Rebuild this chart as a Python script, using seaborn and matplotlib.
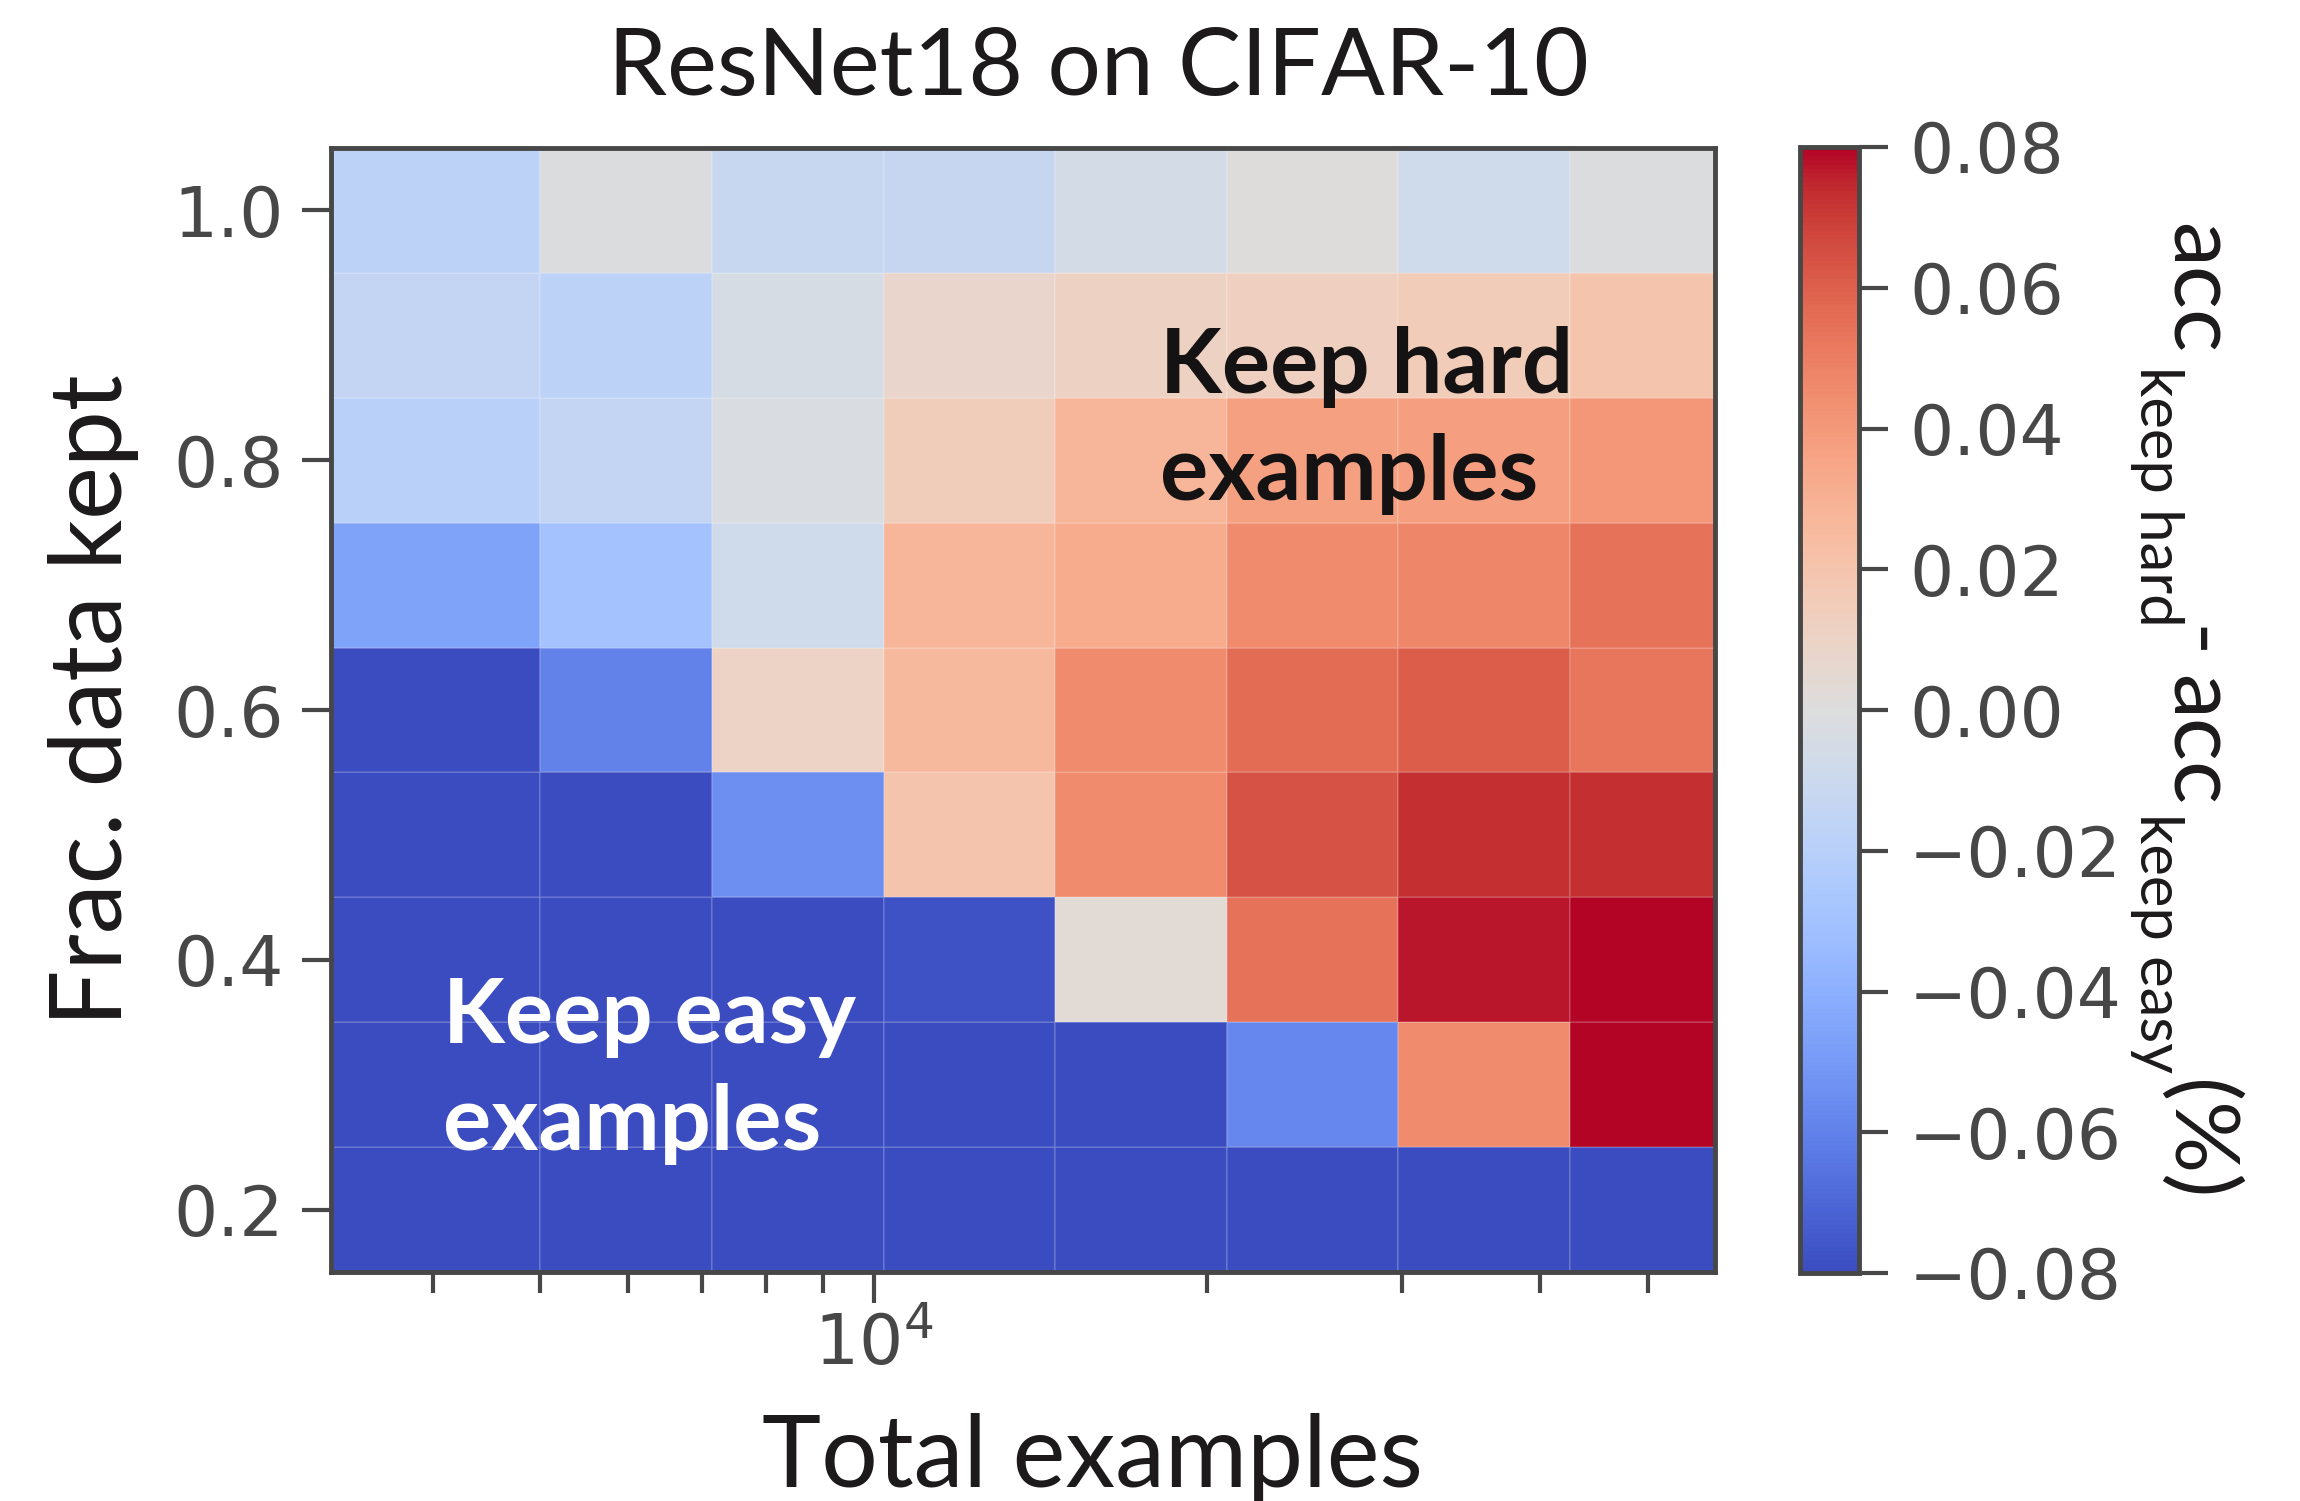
import numpy as np
import pandas as pd
import matplotlib
matplotlib.use("Agg")
import matplotlib.pyplot as plt
import matplotlib.ticker as mticker
from matplotlib import font_manager
import seaborn as sns

# ---------------- data ----------------
total_examples = [4117, 5882, 8403, 12005, 17150, 24500, 35000, 50000]
frac_kept = [0.2, 0.3, 0.4, 0.5, 0.6, 0.7, 0.8, 0.9, 1.0]
# rows follow frac_kept (ascending), columns follow total_examples (ascending)
acc_diff = [
    [-0.090, -0.090, -0.090, -0.090, -0.090, -0.090, -0.090, -0.090],   # 0.2
    [-0.085, -0.085, -0.085, -0.085, -0.085, -0.058, 0.045, 0.090],     # 0.3
    [-0.085, -0.085, -0.085, -0.078, 0.0035, 0.054, 0.077, 0.085],      # 0.4
    [-0.085, -0.085, -0.055, 0.0205, 0.045, 0.064, 0.073, 0.073],       # 0.5
    [-0.085, -0.060, 0.0100, 0.026, 0.045, 0.056, 0.061, 0.053],        # 0.6
    [-0.046, -0.030, -0.008, 0.028, 0.032, 0.045, 0.047, 0.054],        # 0.7
    [-0.020, -0.014, -0.002, 0.014, 0.028, 0.037, 0.038, 0.041],        # 0.8
    [-0.014, -0.018, -0.004, 0.008, 0.011, 0.013, 0.015, 0.020],        # 0.9
    [-0.018, -0.001, -0.012, -0.013, -0.006, 0.001, -0.008, -0.001],    # 1.0
]
cbar_ticks = [-0.08, -0.06, -0.04, -0.02, 0.0, 0.02, 0.04, 0.06, 0.08]
y_ticks = [0.2, 0.4, 0.6, 0.8, 1.0]
title = "ResNet18 on CIFAR-10"
x_label = "Total examples"
y_label = "Frac. data kept"
# colour-bar label: acc_{keep hard} - acc_{keep easy} (%)
cbar_label_parts = ["acc", "keep hard", "-", "acc", "keep easy", "(%)"]
cbar_label_is_sub = [False, True, False, False, True, False]
note_hard = ["Keep hard", "examples"]
note_easy = ["Keep easy", "examples"]

df = pd.DataFrame(acc_diff, index=frac_kept, columns=total_examples)

# ---------------- style ----------------
sns.set_theme(style="ticks")
names = {f.name for f in font_manager.fontManager.ttflist}
def pick(cands):
    for c in cands:
        if c in names:
            return c
    return "DejaVu Sans"
label_font = pick(["Lato", "Open Sans", "Noto Sans"])

grey = "#474747"
ink = "#1c1a1a"
plt.rcParams["font.family"] = ["DejaVu Sans"]
plt.rcParams.update({
    "axes.edgecolor": grey,
    "axes.linewidth": 3.5,
    "xtick.color": grey,
    "ytick.color": grey,
    "xtick.labelcolor": grey,
    "ytick.labelcolor": grey,
    "mathtext.fontset": "dejavusans",
})

cmap = sns.color_palette("coolwarm", as_cmap=True)

W, H = 2300, 1501
fig = plt.figure(figsize=(W / 100, H / 100), dpi=100)
ax_l, ax_r, ax_t, ax_b = 331, 1715, 148, 1272
ax = fig.add_axes([ax_l / W, 1 - ax_b / H, (ax_r - ax_l) / W, (ax_b - ax_t) / H])
cax = fig.add_axes([1800 / W, 1 - 1273 / H, 59 / W, (1273 - 147) / H])

mesh = ax.pcolormesh(df.columns.values, df.index.values, df.values,
                     shading="nearest", cmap=cmap, vmin=-0.08, vmax=0.08,
                     edgecolors=(1, 1, 1, 0.13), linewidth=1.2)
ax.set_xscale("log")
ax.xaxis.set_minor_formatter(mticker.NullFormatter())
ax.set_yticks(y_ticks)
ax.tick_params(axis="x", which="major", length=22, width=3, pad=6, labelsize=50)
ax.tick_params(axis="x", which="minor", length=15, width=3)
ax.tick_params(axis="y", which="major", length=21, width=3, pad=13, labelsize=50)
ax.tick_params(axis="y", which="minor", length=0)
for s in ax.spines.values():
    s.set_visible(True)
    s.set_linewidth(3.5)
    s.set_color(grey)

ax.set_xlabel(x_label, fontsize=72, family=label_font, color=ink)
ax.xaxis.label.set_va("baseline")
ax.xaxis.set_label_coords((1092 - ax_l) / (ax_r - ax_l), -(1487 - ax_b) / (ax_b - ax_t))
ax.set_ylabel(y_label, fontsize=72, family=label_font, color=ink)
ax.yaxis.label.set_va("baseline")
ax.yaxis.set_label_coords((122 - ax_l) / (ax_r - ax_l), (ax_b - 700) / (ax_b - ax_t))

fig.text(1098 / W, 1 - 95 / H, title, ha="center", va="baseline",
         fontsize=68, family=label_font, color=ink)

def fx(px):
    return (px - ax_l) / (ax_r - ax_l)
def fy(py):
    return (ax_b - py) / (ax_b - ax_t)

for txt, py in zip(note_hard, [393, 500]):
    ax.text(fx(1160), fy(py), txt, transform=ax.transAxes, ha="left", va="baseline",
            fontsize=65, fontweight="bold", family=label_font, color="#141212")
for txt, py in zip(note_easy, [1043, 1150]):
    ax.text(fx(443), fy(py), txt, transform=ax.transAxes, ha="left", va="baseline",
            fontsize=65, fontweight="bold", family=label_font, color="white")

cbar = fig.colorbar(mesh, cax=cax)
cbar.set_ticks(cbar_ticks)
cbar.outline.set_linewidth(3.5)
cbar.outline.set_edgecolor(grey)
cax.tick_params(length=21, width=3, pad=15, labelsize=50, colors=grey)

# colour-bar label, written top-to-bottom with lowered subscripts
cb_base_x = 2171
part_starts = [223, 366, 626, 675, 813, 1080]
for txt, is_sub, y0 in zip(cbar_label_parts, cbar_label_is_sub, part_starts):
    fig.text((cb_base_x - (31 if is_sub else 0)) / W, 1 - y0 / H, txt,
             rotation=270, rotation_mode="anchor", ha="left", va="baseline",
             fontsize=43 if is_sub else 65, family=label_font, color=ink)

fig.savefig("out.png", dpi=100)
